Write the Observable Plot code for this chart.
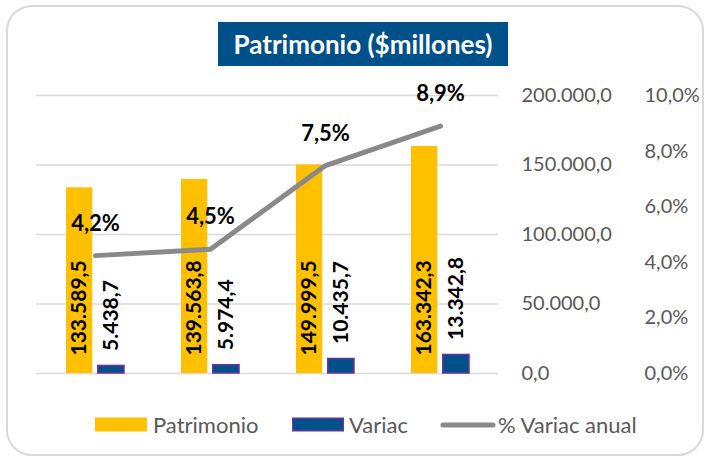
<!DOCTYPE html>
<html>
<head>
<meta charset="utf-8">
<script src="https://cdn.jsdelivr.net/npm/d3@7"></script>
<script src="https://cdn.jsdelivr.net/npm/@observablehq/plot@0.6"></script>
<style>
  html, body { margin: 0; padding: 0; background: #fff; }
  #wrap { position: relative; width: 710px; height: 462px; font-family: Lato, "Open Sans", sans-serif; overflow: hidden; }
  #border { position: absolute; left: 6px; top: 5px; width: 698px; height: 451px; border: 2px solid #d9d9d9; border-radius: 26px; box-sizing: border-box; }
  #title { position: absolute; left: 218px; top: 22px; width: 290px; height: 44px; background: #00508A; color: #fff; font-weight: bold; font-size: 26px; line-height: 44px; text-align: center; white-space: nowrap; }
  #chart { position: absolute; left: 0; top: 0; }
  .leg { position: absolute; top: 414px; height: 22px; font-size: 22px; color: #595959; line-height: 22px; white-space: nowrap; }
  .sw { position: absolute; }
</style>
</head>
<body>
<div id="wrap">
  <div id="border"></div>
  <div id="chart"></div>
  <div id="title">Patrimonio ($millones)</div>
  <div id="legend"></div>
</div>
<script>
// ---- data ----
const categories = ["Periodo 1", "Periodo 2", "Periodo 3", "Periodo 4"];
const patrimonio = [133589.5, 139563.8, 149999.5, 163342.3];
const variac = [5438.7, 5974.4, 10435.7, 13342.8];
const variacAnual = [0.0424, 0.0447, 0.0748, 0.089];
const primaryTicks = [0, 50000, 100000, 150000, 200000];
const secondaryTicks = [0, 0.02, 0.04, 0.06, 0.08, 0.10];
const seriesNames = ["Patrimonio", "Variac", "% Variac anual"];

// secondary axis (0–10%) mapped onto primary (0–200.000)
const SCALE = 200000 / 0.10;

const loc = d3.formatLocale({decimal: ",", thousands: ".", grouping: [3], currency: ["$", ""]});
const fmtNum = loc.format(",.1f");
const fmtPct = p => (p * 100).toFixed(1).replace(".", ",") + "%";

const data = categories.map((c, i) => ({
  cat: c, patrimonio: patrimonio[i], variac: variac[i], pct: variacAnual[i]
}));

const YELLOW = "#FFC000", BLUE = "#00508A", PURPLE = "#7030A0", GREY = "#898989";

const chart = Plot.plot({
  width: 710,
  height: 462,
  marginLeft: 36,
  marginRight: 212,
  marginTop: 95,
  marginBottom: 89,
  style: {fontFamily: "Lato, 'Open Sans', sans-serif", background: "transparent", overflow: "visible"},
  x: {domain: categories, paddingInner: 0.5, paddingOuter: 0.25, axis: null},
  y: {domain: [0, 200000], axis: null},
  marks: [
    Plot.gridY(primaryTicks, {stroke: "#d9d9d9", strokeOpacity: 1, strokeWidth: 1.5}),
    Plot.barY(data, {x: "cat", y: "patrimonio", fill: YELLOW, insetRight: 31.75}),
    Plot.barY(data, {x: "cat", y: "variac", fill: BLUE, stroke: PURPLE, strokeWidth: 1.5, insetLeft: 31.75}),
    Plot.lineY(data, {x: "cat", y: d => d.pct * SCALE, stroke: GREY, strokeWidth: 5, strokeLinecap: "round", strokeLinejoin: "round"}),
    Plot.text(data, {x: "cat", y: d => 0, text: d => fmtNum(d.patrimonio), rotate: -90, textAnchor: "start", dx: -16, dy: -18, fontSize: 21, fontWeight: "bold", fill: "#000"}),
    Plot.text(data, {x: "cat", y: "variac", text: d => fmtNum(d.variac), rotate: -90, textAnchor: "start", dx: 16, dy: -15, fontSize: 21, fontWeight: "bold", fill: "#000"}),
    Plot.text(data, {x: "cat", y: d => d.pct * SCALE, text: d => fmtPct(d.pct), lineAnchor: "bottom", dy: -25, fontSize: 22, fontWeight: "bold", fill: "#000"}),
    Plot.axisY(primaryTicks, {anchor: "right", tickSize: 0, tickPadding: 23, tickFormat: fmtNum, fontSize: 20, color: "#595959", label: null}),
    Plot.axisY(secondaryTicks.map(p => p * SCALE), {anchor: "right", tickSize: 0, tickPadding: 146, tickFormat: v => fmtPct(v / SCALE), fontSize: 20, color: "#595959", label: null})
  ]
});
document.getElementById("chart").appendChild(chart);

// ---- legend ----
const legend = document.getElementById("legend");
const items = [
  {name: seriesNames[0], type: "rect", fill: YELLOW, stroke: "none", swX: 95, txtX: 153},
  {name: seriesNames[1], type: "rect", fill: BLUE, stroke: PURPLE, swX: 292, txtX: 349},
  {name: seriesNames[2], type: "line", fill: "none", stroke: GREY, swX: 440, txtX: 498}
];
for (const it of items) {
  const sw = document.createElementNS("http://www.w3.org/2000/svg", "svg");
  sw.setAttribute("class", "sw");
  sw.setAttribute("width", 56);
  sw.setAttribute("height", 16);
  sw.style.left = it.swX + "px";
  sw.style.top = "417px";
  if (it.type === "rect") {
    const r = document.createElementNS("http://www.w3.org/2000/svg", "rect");
    const sWidth = it.stroke === "none" ? 0 : 1.5;
    r.setAttribute("x", sWidth / 2);
    r.setAttribute("y", 0.5 + sWidth / 2);
    r.setAttribute("width", 52 - sWidth);
    r.setAttribute("height", 14 - sWidth);
    r.setAttribute("fill", it.fill);
    if (sWidth) { r.setAttribute("stroke", it.stroke); r.setAttribute("stroke-width", sWidth); }
    sw.appendChild(r);
  } else {
    const l = document.createElementNS("http://www.w3.org/2000/svg", "line");
    l.setAttribute("x1", 3); l.setAttribute("x2", 53);
    l.setAttribute("y1", 8); l.setAttribute("y2", 8);
    l.setAttribute("stroke", it.stroke);
    l.setAttribute("stroke-width", 5);
    l.setAttribute("stroke-linecap", "round");
    sw.appendChild(l);
  }
  legend.appendChild(sw);
  const t = document.createElement("div");
  t.className = "leg";
  t.style.left = it.txtX + "px";
  t.textContent = it.name;
  legend.appendChild(t);
}
</script>
</body>
</html>
